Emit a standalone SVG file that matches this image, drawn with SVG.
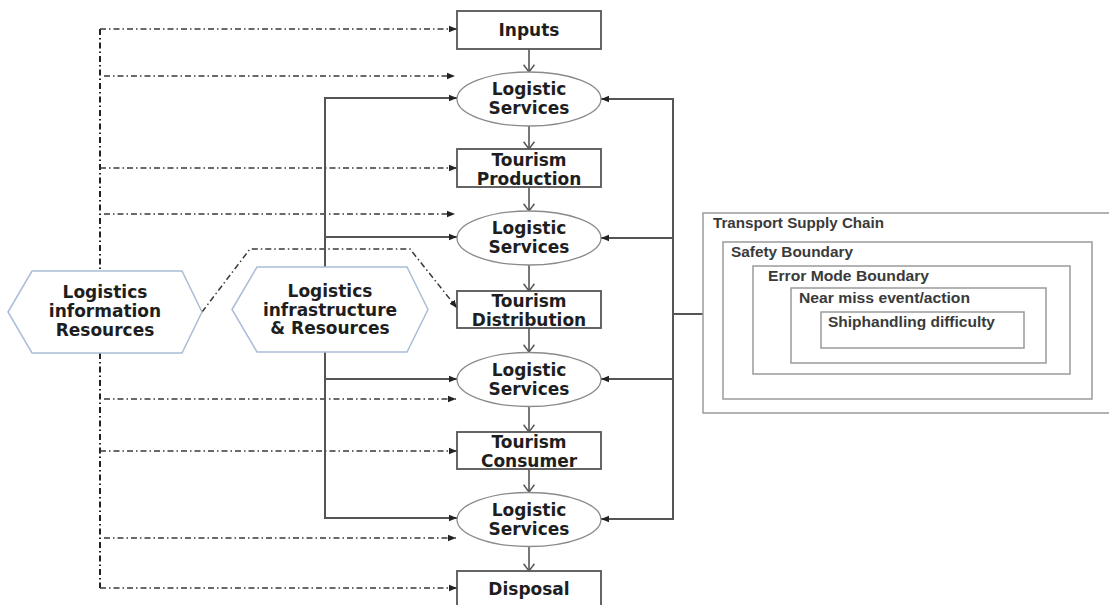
<svg xmlns="http://www.w3.org/2000/svg" width="1109" height="605" viewBox="0 0 1109 605">
<defs>
<style>
.box{fill:#fff;stroke:#555;stroke-width:1.8}
.ell{fill:#fff;stroke:#8a8a8a;stroke-width:1.3}
.hex{fill:#fff;stroke:#a9bdd6;stroke-width:1.5}
.tsc{fill:none;stroke:#9a9a9a;stroke-width:1.5}
.t{font-family:"DejaVu Sans",Verdana,sans-serif;font-weight:bold;font-size:17px;fill:#1e1e1e;text-anchor:middle}
.s{font-family:"Liberation Sans",Arial,sans-serif;font-weight:bold;font-size:14px;fill:#3a3a3a}
.dd{fill:none;stroke:#3a3a3a;stroke-width:1.5;stroke-dasharray:6 3 1.5 3}
.ddv{fill:none;stroke:#222;stroke-width:2;stroke-dasharray:6 3 1.5 3}
.sol{fill:none;stroke:#555;stroke-width:2}
.flow{fill:none;stroke:#555;stroke-width:1.6}
</style>
<marker id="fa" viewBox="0 0 10 10" refX="10" refY="5" markerWidth="8" markerHeight="8" orient="auto" markerUnits="userSpaceOnUse">
<path d="M0,1 L10,5 L0,9 z" fill="#222"/>
</marker>
<marker id="va" viewBox="0 0 10 14" refX="9" refY="7" markerWidth="9" markerHeight="13" orient="auto" markerUnits="userSpaceOnUse">
<path d="M1,1 L9,7 L1,13" fill="none" stroke="#555" stroke-width="1.6"/>
</marker>
</defs>
<rect width="1109" height="605" fill="#fff"/>

<g id="connectors">
<path class="ddv" d="M100,29 V271 M100,353 V588"/>
<path class="dd" marker-end="url(#fa)" d="M100,29 H457"/>
<path class="dd" marker-end="url(#fa)" d="M104,76 H455"/>
<path class="dd" marker-end="url(#fa)" d="M100,168 H457"/>
<path class="dd" marker-end="url(#fa)" d="M104,214 H455"/>
<path class="dd" marker-end="url(#fa)" d="M104,399 H456"/>
<path class="dd" marker-end="url(#fa)" d="M100,451 H457"/>
<path class="dd" marker-end="url(#fa)" d="M104,538 H456"/>
<path class="dd" marker-end="url(#fa)" d="M100,588 H457"/>
<path class="dd" marker-end="url(#fa)" d="M202,312 L250,249 H410 L457,308"/>
<path class="sol" d="M325,267 V98 M325,352 V518"/>
<path class="sol" marker-end="url(#fa)" d="M324,98 H457"/>
<path class="sol" marker-end="url(#fa)" d="M325,237 H457"/>
<path class="sol" marker-end="url(#fa)" d="M325,379 H457"/>
<path class="sol" marker-end="url(#fa)" d="M324,518 H457"/>
<path class="sol" d="M673,98 V520 M673,314 H703"/>
<path class="sol" marker-end="url(#fa)" d="M674,99 H601"/>
<path class="sol" marker-end="url(#fa)" d="M673,238 H601"/>
<path class="sol" marker-end="url(#fa)" d="M673,379 H601"/>
<path class="sol" marker-end="url(#fa)" d="M674,519 H601"/>
<path class="flow" marker-end="url(#va)" d="M529,49 V72"/>
<path class="flow" marker-end="url(#va)" d="M529,126 V149"/>
<path class="flow" marker-end="url(#va)" d="M529,187 V211"/>
<path class="flow" marker-end="url(#va)" d="M529,265 V291"/>
<path class="flow" marker-end="url(#va)" d="M529,328 V352"/>
<path class="flow" marker-end="url(#va)" d="M529,407 V432"/>
<path class="flow" marker-end="url(#va)" d="M529,469 V492"/>
<path class="flow" marker-end="url(#va)" d="M529,547 V571"/>
</g>

<g id="inputs">
<rect class="box" x="457" y="11" width="144" height="38"/>
<text class="t" x="529" y="36">Inputs</text>
</g>
<g id="logistic-services-1">
<ellipse class="ell" cx="529" cy="99" rx="72" ry="27"/>
<text class="t" x="529" y="95">Logistic</text>
<text class="t" x="529" y="114">Services</text>
</g>
<g id="tourism-production">
<rect class="box" x="457" y="149" width="144" height="38"/>
<text class="t" x="529" y="166">Tourism</text>
<text class="t" x="529" y="185">Production</text>
</g>
<g id="logistic-services-2">
<ellipse class="ell" cx="529" cy="238" rx="72" ry="27"/>
<text class="t" x="529" y="234">Logistic</text>
<text class="t" x="529" y="253">Services</text>
</g>
<g id="tourism-distribution">
<rect class="box" x="457" y="291" width="144" height="37"/>
<text class="t" x="529" y="307">Tourism</text>
<text class="t" x="529" y="326">Distribution</text>
</g>
<g id="logistic-services-3">
<ellipse class="ell" cx="529" cy="379.5" rx="72" ry="27"/>
<text class="t" x="529" y="376">Logistic</text>
<text class="t" x="529" y="395">Services</text>
</g>
<g id="tourism-consumer">
<rect class="box" x="457" y="432" width="144" height="37"/>
<text class="t" x="529" y="448">Tourism</text>
<text class="t" x="529" y="467">Consumer</text>
</g>
<g id="logistic-services-4">
<ellipse class="ell" cx="529" cy="519.5" rx="72" ry="27"/>
<text class="t" x="529" y="516">Logistic</text>
<text class="t" x="529" y="535">Services</text>
</g>
<g id="disposal">
<rect class="box" x="457" y="571" width="144" height="40"/>
<text class="t" x="529" y="595">Disposal</text>
</g>

<g id="logistics-information-resources">
<polygon class="hex" points="8,312 32,271 182,271 202,312 182,353 32,353"/>
<text class="t" x="105" y="298">Logistics</text>
<text class="t" x="105" y="317">information</text>
<text class="t" x="105" y="336">Resources</text>
</g>
<g id="logistics-infrastructure-resources">
<polygon class="hex" points="232,309.5 257,267 407,267 428,309.5 407,352 257,352"/>
<text class="t" x="330" y="297">Logistics</text>
<text class="t" x="330" y="316">infrastructure</text>
<text class="t" x="330" y="334">&amp; Resources</text>
</g>

<g id="transport-supply-chain">
<rect class="tsc" x="703" y="213" width="410" height="200"/>
<text class="s" x="713" y="228" textLength="171" lengthAdjust="spacingAndGlyphs">Transport Supply Chain</text>
</g>
<g id="safety-boundary">
<rect class="tsc" x="723" y="242" width="369" height="157"/>
<text class="s" x="731" y="257" textLength="122" lengthAdjust="spacingAndGlyphs">Safety Boundary</text>
</g>
<g id="error-mode-boundary">
<rect class="tsc" x="753" y="266" width="317" height="108"/>
<text class="s" x="768" y="281" textLength="161" lengthAdjust="spacingAndGlyphs">Error Mode Boundary</text>
</g>
<g id="near-miss">
<rect class="tsc" x="791" y="288" width="255" height="75"/>
<text class="s" x="799" y="303" textLength="171" lengthAdjust="spacingAndGlyphs">Near miss event/action</text>
</g>
<g id="shiphandling-difficulty">
<rect class="tsc" x="821" y="312" width="203" height="36"/>
<text class="s" x="828" y="327" textLength="167" lengthAdjust="spacingAndGlyphs">Shiphandling difficulty</text>
</g>
</svg>
